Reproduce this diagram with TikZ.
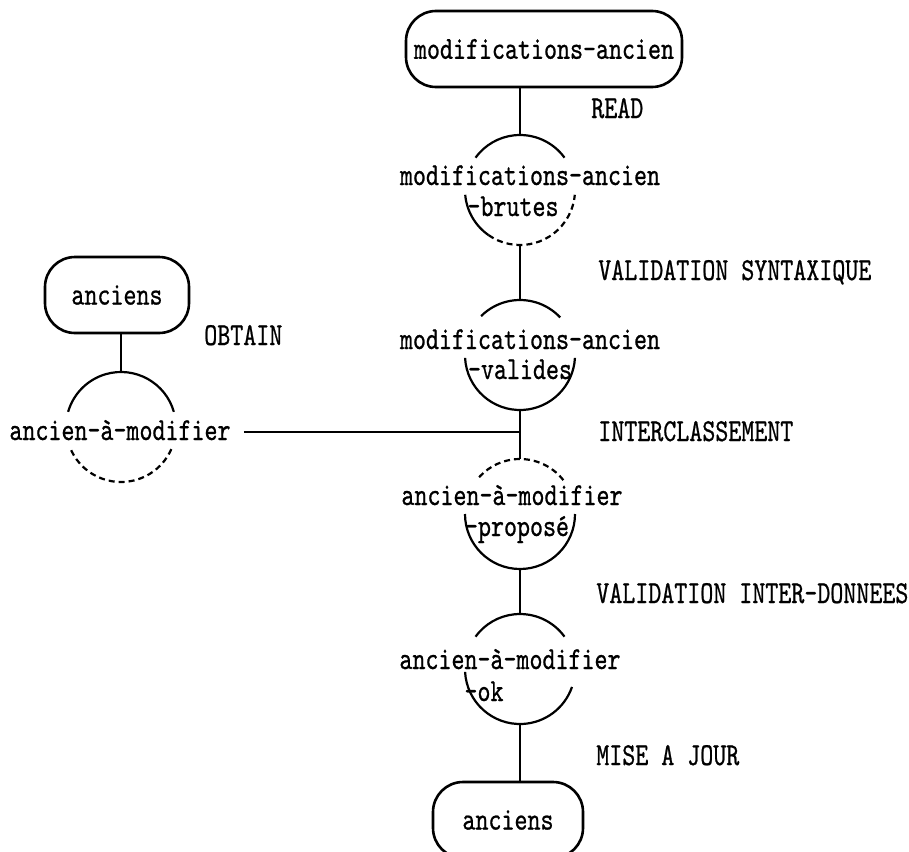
\documentclass[tikz,border=0pt]{standalone}
\usepackage{fontspec}
\newfontfamily\dfdfont[FakeStretch=0.774,FakeBold=0.7]{lmmono10-regular.otf}
\begin{document}
\begin{tikzpicture}[x=0.5pt,y=0.5pt,line width=1.3pt,
        font=\dfdfont\fontsize{16}{19}\selectfont,
        fichier/.style={draw,rounded corners=15pt,minimum height=38pt,inner sep=0pt},
        etat/.style={circle,minimum size=55pt,inner sep=0pt,outer sep=0pt},
        texte/.style={inner sep=0pt,text height=10pt,text depth=2pt},
        passage/.style={texte,anchor=west},
        bord/.style={line width=1.1pt},
        pale/.style={bord,dash pattern=on 3pt off 2pt}]
        \useasboundingbox (0,0) rectangle (909,-851);
        \clip (0,0) rectangle (909,-851);
        % fichiers
        \node[fichier,minimum width=138pt] (modif) at (544,-49) {modifications-ancien};
        \node[fichier,minimum width=72pt] (anc) at (117,-295) {anciens};
        \node[fichier,minimum width=75pt] (ancmaj) at (508,-820) {anciens};
        % etats
        \node[etat] (brutes) at (520,-190) {};
        \node[etat] (valides) at (520,-355) {};
        \node[etat] (propose) at (520,-514) {};
        \node[etat] (ok) at (520,-669) {};
        \node[etat] (amod) at (121,-427) {};
        \node[texte] (brutesa) at (530,-177) {modifications-ancien};
        \node[texte] (brutesb) at (513,-208) {-brutes};
        \node[texte] (validesa) at (530,-341) {modifications-ancien};
        \node[texte] (validesb) at (520,-371) {-valides};
        \node[texte] (proposea) at (512,-497) {ancien-à-modifier};
        \node[texte] (proposeb) at (517,-528) {-proposé};
        \node[texte] (oka) at (510,-661) {ancien-à-modifier};
        \node[texte] (okb) at (484,-693) {-ok};
        \node[texte] (amoda) at (120,-432) {ancien-à-modifier};
        % bords des etats
        \draw[bord] (brutes.36) arc[start angle=36,end angle=144,radius=55];
        \draw[bord] (brutes.185) arc[start angle=185,end angle=235,radius=55];
        \draw[pale] (brutes.235) arc[start angle=235,end angle=355,radius=55];
        \draw[bord] (valides.43) arc[start angle=43,end angle=135,radius=55];
        \draw[bord] (valides.183) arc[start angle=183,end angle=357,radius=55];
        \draw[pale] (propose.38) arc[start angle=38,end angle=142,radius=55];
        \draw[bord] (propose.180) arc[start angle=180,end angle=360,radius=55];
        \draw[bord] (ok.36) arc[start angle=36,end angle=144,radius=55];
        \draw[bord] (ok.183) arc[start angle=183,end angle=341,radius=55];
        \draw[bord] (amod.16) arc[start angle=16,end angle=164,radius=55];
        \draw[pale] (amod.205) arc[start angle=205,end angle=338,radius=55];
        % liaisons
        \draw (brutes.north |- modif.south) -- (brutes.north);
        \draw (brutes.south) -- (valides.north);
        \draw (valides.south) -- (propose.north);
        \draw (propose.south) -- (ok.north);
        \draw (ok.south) -- (ok.south |- ancmaj.north);
        \draw (amod.north |- anc.south) -- (amod.north);
        \coordinate (jonction) at (valides.south |- amoda);
        \draw[shorten <=6pt] (amoda.east) -- (jonction);
        % traitements
        \node[passage] (read) at (590,-110) {READ};
        \node[passage] (vsynt) at (597,-272) {VALIDATION SYNTAXIQUE};
        \node[passage] (obtain) at (203,-337) {OBTAIN};
        \node[passage] (intercl) at (597,-433) {INTERCLASSEMENT};
        \node[passage] (vinter) at (595,-595) {VALIDATION INTER-DONNEES};
        \node[passage] (maj) at (595,-757) {MISE A JOUR};
\end{tikzpicture}
\end{document}
